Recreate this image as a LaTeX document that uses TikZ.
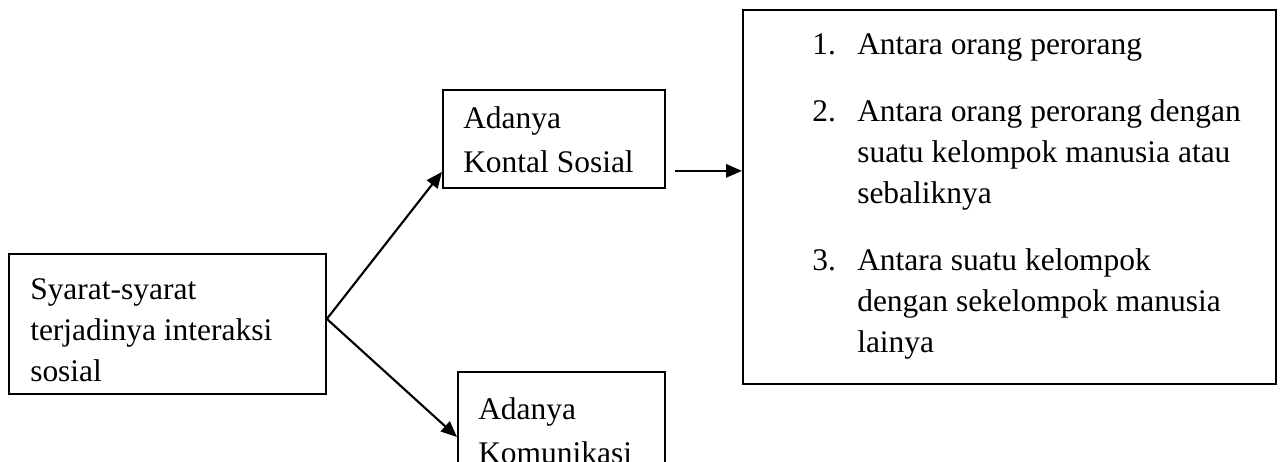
\documentclass[tikz,border=0pt]{standalone}
\usepackage{fontspec}
\setmainfont{Liberation Serif}
\usetikzlibrary{arrows.meta}
\newcommand\diagfont{\fontsize{23.6pt}{30.75pt}\selectfont}
\newcommand\widefont{\fontsize{23.6pt}{32.5pt}\selectfont}
\tikzset{
  box/.style={draw, line width=1.4pt, inner sep=0pt, anchor=north west},
  txt/.style={inner sep=0pt, anchor=base west, align=left, font=\diagfont},
  widetxt/.style={txt, font=\widefont},
  arr/.style={line width=1.6pt, -{Triangle[length=12pt,width=10pt]}}
}
\begin{document}
\begin{tikzpicture}[x=0.75pt,y=-0.75pt]
\useasboundingbox (0,0) rectangle (1281,461);
\clip (0,0) rectangle (1281,461);
% boxes
\node[box, minimum width=237.75pt, minimum height=105pt] (L) at (8,253) {};
\node[box, minimum width=166.5pt, minimum height=73.5pt] (K) at (442,89) {};
\node[box, minimum width=155.25pt, minimum height=111.75pt] (C) at (457,371) {};
\node[box, minimum width=399.75pt, minimum height=280.5pt] (R) at (742,9) {};
% texts (anchored at the baseline of their last line)
\node[txt] (tL) at (30,381) {Syarat-syarat\\terjadinya interaksi\\sosial};
\node[widetxt] (tK) at (463,172) {Adanya\\Kontal Sosial};
\node[widetxt] (tC) at (478,463) {Adanya\\Komunikasi};
\node[txt] (n1) at (812,54) {1.};
\node[txt] (i1) at (857,54) {Antara orang perorang};
\node[txt] (n2) at (812,121) {2.};
\node[txt] (i2) at (857,203) {Antara orang perorang dengan\\suatu kelompok manusia atau\\sebaliknya};
\node[txt] (n3) at (812,270) {3.};
\node[txt] (i3) at (857,352) {Antara suatu kelompok\\dengan sekelompok manusia\\lainya};
% connectors
\coordinate (s) at ([yshift=3.75pt]L.east);
\draw[arr] (s) -- ([yshift=12.75pt]K.south west);
\draw[arr] (s) -- ([yshift=-49.5pt]C.north west);
\coordinate (m) at ([xshift=6.75pt,yshift=13.5pt]K.south east);
\draw[arr] (m) -- (m -| R.west);
\end{tikzpicture}
\end{document}
